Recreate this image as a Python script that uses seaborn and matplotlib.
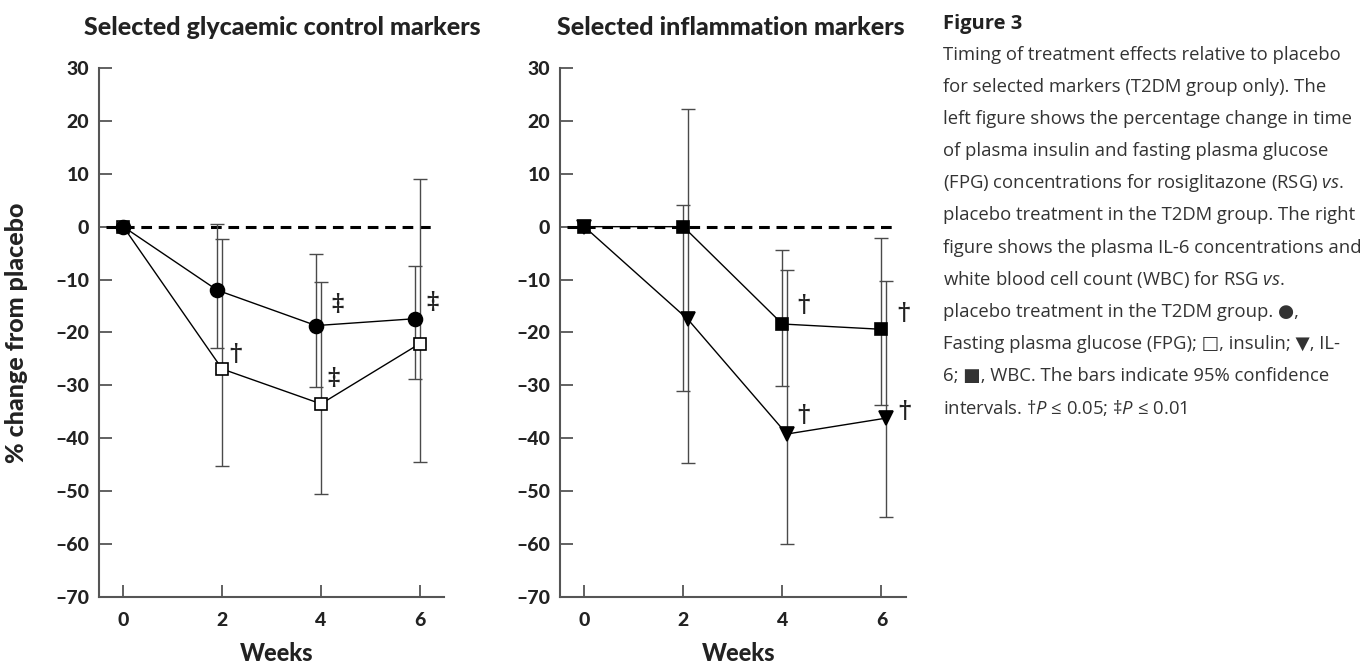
import numpy as np
import pandas as pd
import matplotlib
matplotlib.use("Agg")
import matplotlib.pyplot as plt
import seaborn as sns

# --- data (% change from placebo) ---
weeks = [0, 2, 4, 6]

fpg = [0, -12.0, -18.7, -17.4]
fpg_lo = [np.nan, -22.9, -30.4, -28.8]
fpg_hi = [np.nan, 0.5, -5.2, -7.5]

insulin = [0, -26.9, -33.5, -22.1]
insulin_lo = [np.nan, -45.2, -50.5, -44.4]
insulin_hi = [np.nan, -2.3, -10.5, 9.0]

il6 = [0, -17.5, -39.2, -36.2]
il6_lo = [np.nan, -44.7, -60.0, -54.9]
il6_hi = [np.nan, 22.3, -8.2, -10.3]

wbc = [0, 0.0, -18.4, -19.4]
wbc_lo = [np.nan, -31.1, -30.2, -33.7]
wbc_hi = [np.nan, 4.1, -4.5, -2.1]

# significance marks (week, value, symbol)
left_marks = [(2.26, -24.0, "†"), (4.33, -14.6, "‡"), (4.26, -28.6, "‡"), (6.26, -14.2, "‡")]
right_marks = [(4.43, -14.8, "†"), (4.42, -35.6, "†"), (6.44, -16.4, "†"), (6.46, -34.8, "†")]

y_ticks = [30, 20, 10, 0, -10, -20, -30, -40, -50, -60, -70]
y_ticklabels = ["30", "20", "10", "0", "\u201310", "\u201320", "\u201330",
                "\u201340", "\u201350", "\u201360", "\u201370"]

caption_title = "Figure 3"
caption_lines = [
    "Timing of treatment effects relative to placebo",
    "for selected markers (T2DM group only). The",
    "left figure shows the percentage change in time",
    "of plasma insulin and fasting plasma glucose",
    r"(FPG) concentrations for rosiglitazone (RSG) $\mathit{vs.}$",
    "placebo treatment in the T2DM group. The right",
    "figure shows the plasma IL-6 concentrations and",
    r"white blood cell count (WBC) for RSG $\mathit{vs.}$",
    "placebo treatment in the T2DM group. \u25cf,",
    "Fasting plasma glucose (FPG); \u25a1, insulin; \u25bc, IL-",
    "6; \u25a0, WBC. The bars indicate 95% confidence",
    r"intervals. †$\mathit{P}$ ≤ 0.05; ‡$\mathit{P}$ ≤ 0.01",
]

sns.set_theme(style="ticks")
plt.rcParams["font.family"] = ["Lato", "DejaVu Sans"]
plt.rcParams["mathtext.fontset"] = "custom"
plt.rcParams["mathtext.rm"] = "Open Sans"
plt.rcParams["mathtext.it"] = "Open Sans:italic"

AX_COL = "#555555"
TXT_COL = "#222222"
BAR_COL = "#4a4a4a"
HEAVY = "black"


def to_frame(x, y, name):
    return pd.DataFrame({"week": x, "value": y, "series": name})


def draw_series(ax, vals, lo, hi, name, shift, marker, ms, face):
    v = np.array(vals, dtype=float)
    x = np.array(weeks, dtype=float)
    x = np.where(x > 0, x + shift, x)
    ok = ~np.isnan(np.array(lo, dtype=float))
    err = np.vstack([v[ok] - np.array(lo)[ok], np.array(hi)[ok] - v[ok]])
    ax.errorbar(x[ok], v[ok], yerr=err, fmt="none", ecolor=BAR_COL,
                elinewidth=1.0, capsize=5, capthick=1.0, zorder=2)
    df = to_frame(x, v, name)
    sns.lineplot(data=df, x="week", y="value", ax=ax, color="black",
                 linewidth=1.0, marker=marker, markersize=ms,
                 markerfacecolor=face, markeredgecolor="black",
                 markeredgewidth=1.2, errorbar=None, legend=False, zorder=3)


def style_axes(ax, title, title_x):
    ax.set_xlim(-0.49, 6.49)
    ax.set_ylim(-70, 30)
    ax.set_xticks(weeks)
    ax.set_xticklabels([str(w) for w in weeks], fontsize=14, fontweight=HEAVY, color=TXT_COL)
    ax.set_yticks(y_ticks)
    ax.set_yticklabels(y_ticklabels, fontsize=14, fontweight=HEAVY, color=TXT_COL)
    ax.tick_params(axis="both", direction="in", length=9, width=1.3, color=AX_COL)
    ax.tick_params(axis="y", pad=7)
    ax.tick_params(axis="x", pad=11)
    sns.despine(ax=ax)
    for s in ["left", "bottom"]:
        ax.spines[s].set_color(AX_COL)
        ax.spines[s].set_linewidth(1.5)
    ax.axhline(0, xmin=0.02, xmax=0.975, color="black", linewidth=2.2,
               dashes=(3.5, 2.2), zorder=1)
    ax.set_xlabel("Weeks", fontsize=17, fontweight=HEAVY, color=TXT_COL)
    ax.xaxis.set_label_coords(0.516, -0.086)
    ax.set_ylabel("")
    ax.text(title_x, 1.077, title, transform=ax.transAxes, ha="center", va="center",
            fontsize=18, fontweight=HEAVY, color=TXT_COL)


fig = plt.figure(figsize=(13.72, 6.65), dpi=100)
ax1 = fig.add_axes([0.0722, 0.1023, 0.2515, 0.7955])
ax2 = fig.add_axes([0.4082, 0.1023, 0.2519, 0.7955])

# left panel: glycaemic markers
draw_series(ax1, insulin, insulin_lo, insulin_hi, "insulin", 0.0, "s", 9, "white")
draw_series(ax1, fpg, fpg_lo, fpg_hi, "FPG", -0.1, "o", 10, "black")
style_axes(ax1, "Selected glycaemic control markers", 0.53)
ax1.set_ylabel("% change from placebo", fontsize=18, fontweight=HEAVY, color=TXT_COL)
ax1.yaxis.set_label_coords(-0.205, 0.5)
for wx, wy, sym in left_marks:
    ax1.text(wx, wy, sym, ha="center", va="center", fontsize=17, fontweight="bold",
             color=TXT_COL, family=["DejaVu Serif"])

# right panel: inflammation markers
draw_series(ax2, wbc, wbc_lo, wbc_hi, "WBC", 0.0, "s", 8, "black")
draw_series(ax2, il6, il6_lo, il6_hi, "IL-6", 0.09, "v", 10.5, "black")
style_axes(ax2, "Selected inflammation markers", 0.494)
for wx, wy, sym in right_marks:
    ax2.text(wx, wy, sym, ha="center", va="center", fontsize=17, fontweight="bold",
             color=TXT_COL, family=["DejaVu Serif"])

# caption
H = 665.0
fig.text(943 / 1372, 1 - 24 / H, caption_title, ha="left", va="center",
         fontsize=14.5, fontweight="bold", color=TXT_COL, family=["Open Sans", "DejaVu Sans"])
for i, line in enumerate(caption_lines):
    fig.text(943 / 1372, 1 - (55 + 32.1 * i) / H, line, ha="left", va="center",
             fontsize=13.3, color="#333333", family=["Open Sans", "DejaVu Sans"])

fig.savefig("out.png", dpi=100)
